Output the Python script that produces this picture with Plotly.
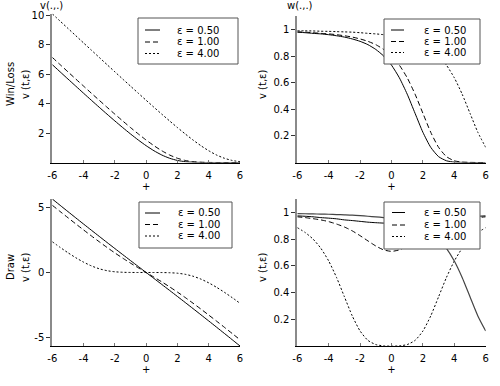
import plotly.graph_objects as go

# ---------------- data ----------------
t_vals = [-6.0, -5.5, -5.0, -4.5, -4.0, -3.5, -3.0, -2.5, -2.0, -1.5, -1.0, -0.5, 0.0,
          0.5, 1.0, 1.5, 2.0, 2.5, 3.0, 3.5, 4.0, 4.5, 5.0, 5.5, 6.0]
eps_labels = ["ε = 0.50", "ε = 1.00", "ε = 4.00"]

win_v_05 = [6.647, 6.158, 5.671, 5.187, 4.704, 4.226, 3.751, 3.283, 2.823, 2.373, 1.939, 1.525, 1.141,
            0.798, 0.509, 0.288, 0.139, 0.055, 0.018, 0.004, 0.001, 0.0, 0.0, 0.0, 0.0]
win_v_10 = [7.138, 6.647, 6.158, 5.671, 5.187, 4.704, 4.226, 3.751, 3.283, 2.823, 2.373, 1.939, 1.525,
            1.141, 0.798, 0.509, 0.288, 0.139, 0.055, 0.018, 0.004, 0.001, 0.0, 0.0, 0.0]
win_v_40 = [10.098, 9.603, 9.109, 8.615, 8.121, 7.629, 7.138, 6.647, 6.158, 5.671, 5.187, 4.704, 4.226,
            3.751, 3.283, 2.823, 2.373, 1.939, 1.525, 1.141, 0.798, 0.509, 0.288, 0.139, 0.055]

win_w_05 = [0.980, 0.976, 0.971, 0.967, 0.961, 0.953, 0.943, 0.929, 0.911, 0.886, 0.850, 0.801, 0.732,
            0.637, 0.514, 0.370, 0.227, 0.114, 0.044, 0.013, 0.003, 0.001, 0.0, 0.0, 0.0]
win_w_10 = [0.982, 0.980, 0.976, 0.971, 0.967, 0.961, 0.953, 0.943, 0.929, 0.911, 0.886, 0.850, 0.801,
            0.732, 0.637, 0.514, 0.370, 0.227, 0.114, 0.044, 0.013, 0.003, 0.001, 0.0, 0.0]
win_w_40 = [0.991, 0.990, 0.989, 0.987, 0.986, 0.984, 0.982, 0.980, 0.976, 0.971, 0.967, 0.961, 0.953,
            0.943, 0.929, 0.911, 0.886, 0.850, 0.801, 0.732, 0.637, 0.514, 0.370, 0.227, 0.114]

draw_v_05 = [5.669, 5.183, 4.699, 4.217, 3.737, 3.261, 2.787, 2.316, 1.848, 1.383, 0.921, 0.460, 0.0,
             -0.460, -0.921, -1.383, -1.848, -2.316, -2.787, -3.261, -3.737, -4.217, -4.699, -5.183, -5.669]
draw_v_10 = [5.187, 4.704, 4.226, 3.751, 3.283, 2.822, 2.371, 1.932, 1.510, 1.107, 0.723, 0.356, 0.0,
             -0.356, -0.723, -1.107, -1.510, -1.932, -2.371, -2.822, -3.283, -3.751, -4.226, -4.704, -5.187]
draw_v_40 = [2.373, 1.939, 1.525, 1.141, 0.798, 0.509, 0.288, 0.139, 0.055, 0.018, 0.004, 0.001, 0.0,
             -0.001, -0.004, -0.018, -0.055, -0.139, -0.288, -0.509, -0.798, -1.141, -1.525, -1.939, -2.373]

draw_w_05 = [0.974, 0.971, 0.967, 0.961, 0.957, 0.952, 0.944, 0.939, 0.933, 0.927, 0.923, 0.920, 0.919,
             0.920, 0.923, 0.927, 0.933, 0.939, 0.944, 0.952, 0.957, 0.961, 0.967, 0.971, 0.974]
draw_w_10 = [0.967, 0.961, 0.953, 0.944, 0.931, 0.913, 0.891, 0.862, 0.826, 0.787, 0.749, 0.720, 0.709,
             0.720, 0.749, 0.787, 0.826, 0.862, 0.891, 0.913, 0.931, 0.944, 0.953, 0.961, 0.967]
draw_w_40 = [0.886, 0.850, 0.801, 0.732, 0.637, 0.514, 0.370, 0.227, 0.114, 0.044, 0.013, 0.003, 0.001,
             0.003, 0.013, 0.044, 0.114, 0.227, 0.370, 0.514, 0.637, 0.732, 0.801, 0.850, 0.886]

x_ticks = [-6, -4, -2, 0, 2, 4, 6]
x_tick_text = ["-6", "-4", "-2", "0", "2", "4", "6"]
y_ticks_win_v = [2, 4, 6, 8, 10]
y_ticks_w = [0.2, 0.4, 0.6, 0.8, 1]
y_ticks_w_text = ["0.2", "0.4", "0.6", "0.8", "1"]
y_ticks_draw_v = [-5, 0, 5]
y_ticks_draw_v_text = ["-5", "0", "5"]

# ---------------- figure ----------------
W, H = 500, 386
FONT = "DejaVu Sans"
DASHES = ["solid", "5px,3px", "2px,2px"]


def fx(px):
    return px / W


def fy(py):
    return 1 - py / H


fig = go.Figure()

panels = [
    ("x", "y", [win_v_05, win_v_10, win_v_40]),
    ("x2", "y2", [win_w_05, win_w_10, win_w_40]),
    ("x3", "y3", [draw_v_05, draw_v_10, draw_v_40]),
    ("x4", "y4", [draw_w_05, draw_w_10, draw_w_40]),
]
for xa, ya, series in panels:
    for ys, dash, name in zip(series, DASHES, eps_labels):
        fig.add_trace(go.Scatter(x=t_vals, y=ys, xaxis=xa, yaxis=ya, mode="lines", name=name,
                                 line=dict(color="black", width=1, dash=dash, shape="spline", smoothing=0.6),
                                 showlegend=False, hoverinfo="skip"))

# extra solid curve visible in the lower-right panel
fig.add_trace(go.Scatter(x=t_vals, y=win_w_40, xaxis="x4", yaxis="y4", mode="lines",
                         line=dict(color="#444", width=1.2, shape="spline", smoothing=0.6),
                         showlegend=False, hoverinfo="skip"))

xcommon = dict(range=[-6, 6], tickvals=x_ticks, ticktext=x_tick_text, ticks="inside", ticklen=3,
               tickcolor="#777", showline=True, linecolor="black", linewidth=1, showgrid=False,
               zeroline=False, automargin=False, ticklabelstandoff=3,
               tickfont=dict(family=FONT, size=10, color="black"),
               title=dict(text="+", font=dict(family=FONT, size=10, color="black"), standoff=2))
ycommon = dict(ticks="outside", ticklen=4, tickcolor="#333", showline=True, linecolor="#8a8a8a",
               linewidth=2, showgrid=False, zeroline=False, automargin=False,
               tickfont=dict(family=FONT, size=10, color="black"))

left_x = [fx(52.3), fx(240)]
right_x = [fx(297.3), fx(485.7)]

fig.update_layout(
    width=W, height=H, margin=dict(l=0, r=0, t=0, b=0),
    paper_bgcolor="white", plot_bgcolor="white", showlegend=False,
    font=dict(family=FONT, size=10, color="black"),
    xaxis=dict(domain=left_x, anchor="y", **xcommon),
    yaxis=dict(domain=[fy(162.5), fy(13.8)], anchor="x", range=[0, 10.1], tickvals=y_ticks_win_v, **ycommon),
    xaxis2=dict(domain=right_x, anchor="y2", **xcommon),
    yaxis2=dict(domain=[fy(162.5), fy(16.2)], anchor="x2", range=[0, 1.1], tickvals=y_ticks_w,
                ticktext=y_ticks_w_text, **ycommon),
    xaxis3=dict(domain=left_x, anchor="y3", **xcommon),
    yaxis3=dict(domain=[fy(346), fy(199)], anchor="x3", range=[-5.67, 5.67], tickvals=y_ticks_draw_v,
                ticktext=y_ticks_draw_v_text, **ycommon),
    xaxis4=dict(domain=right_x, anchor="y4", **xcommon),
    yaxis4=dict(domain=[fy(346.3), fy(199)], anchor="x4", range=[0, 1.1], tickvals=y_ticks_w,
                ticktext=y_ticks_w_text, **ycommon),
)

# y-axis titles
ytitles = [(10, 84, "Win/Loss"), (25, 84, "v (t,ε)"), (262, 84, "v (t,ε)"),
           (10, 267, "Draw"), (25, 267, "v (t,ε)"), (262, 267, "v (t,ε)")]
for px, py, txt in ytitles:
    fig.add_annotation(x=fx(px), y=fy(py), xref="paper", yref="paper", text=txt, textangle=-90,
                       showarrow=False, xanchor="center", yanchor="middle",
                       font=dict(family=FONT, size=10, color="black"))

# panel titles
for px, txt in [(51, "v(.,.)"), (300, "w(.,.)")]:
    fig.add_annotation(x=fx(px), y=fy(5), xref="paper", yref="paper", text=txt, showarrow=False,
                       xanchor="center", yanchor="middle", font=dict(family=FONT, size=10, color="black"))

# legends (one per panel)
legends = [
    (138, 18, 238, 64, 145, 160, 175, [30, 42, 53.5]),
    (384, 19, 480, 64, 391, 404, 422, [30, 41.5, 52.5]),
    (139, 202, 232, 248, 145, 160, 176, [213, 224.5, 236]),
    (384, 202, 480, 249, 392, 405, 422, [212.5, 225, 236.5]),
]
for bx0, by0, bx1, by1, sx0, sx1, tx, rows in legends:
    fig.add_shape(type="rect", xref="paper", yref="paper", x0=fx(bx0), x1=fx(bx1), y0=fy(by1), y1=fy(by0),
                  line=dict(color="#555", width=1), fillcolor="white", layer="above")
    for ry, dash, name in zip(rows, DASHES, eps_labels):
        fig.add_shape(type="line", xref="paper", yref="paper", x0=fx(sx0), x1=fx(sx1), y0=fy(ry), y1=fy(ry),
                      line=dict(color="black", width=1, dash=dash), layer="above")
        fig.add_annotation(x=fx(tx), y=fy(ry), xref="paper", yref="paper", text=name, showarrow=False,
                           xanchor="left", yanchor="middle", font=dict(family=FONT, size=10, color="black"))

fig.write_html("out.html", config={"displayModeBar": False},
               post_script="document.body.style.margin='0';document.body.style.overflow='hidden';")
